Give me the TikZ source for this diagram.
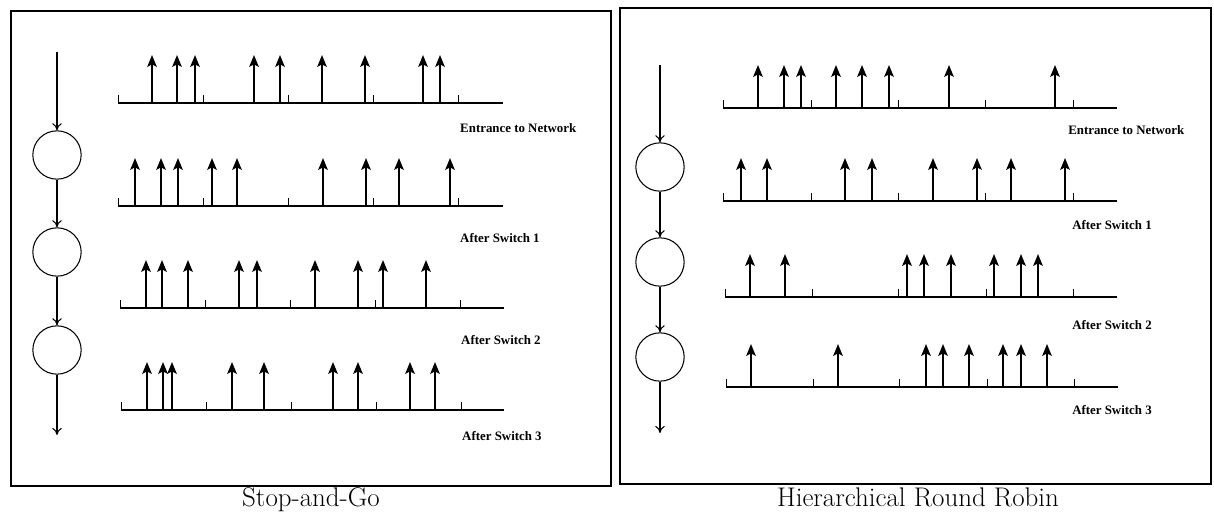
\documentclass[tikz,border=0pt]{standalone}
\usepackage{fontspec}
\newfontfamily\labelfont{Liberation Serif}
\usetikzlibrary{arrows.meta,positioning}

\tikzset{
  panel/.style={draw, line width=1.4pt},
  switch/.style={draw, circle, line width=0.9pt, minimum size=1.45cm, inner sep=0pt},
  flow/.style={-{To[length=6pt,width=8pt]}, line width=0.9pt},
  base/.style={line width=1.2pt},
  tick/.style={line width=0.8pt},
  pulse/.style={-{Stealth[length=10pt,width=8pt,inset=2pt]}, line width=1.9pt},
  rowlabel/.style={anchor=west, inner sep=0pt, font=\labelfont\bfseries\fontsize{11}{13}\selectfont},
  caption/.style={inner sep=0pt, font=\fontsize{23}{26}\selectfont}
}

\begin{document}
\begin{tikzpicture}[x=0.03cm, y=-0.03cm]
    \useasboundingbox (0,0) rectangle (1214,513);

    %% Panels
    \draw [panel] (11,11) rectangle (611,486);
    \draw [panel] (620,8) rectangle (1211,484);
    \node [caption, anchor=base] (capsg) at (311,506) {Stop-and-Go};
    \node [caption, anchor=base] (caphrr) at (918,506) {Hierarchical Round Robin};

    %% Stop-and-Go switches
    \coordinate (sgin) at (57,52);
    \node [switch] (sg1) at (57,155) {};
    \node [switch] (sg2) at (57,252) {};
    \node [switch] (sg3) at (57,350) {};
    \coordinate (sgout) at (57,435);
    \draw [flow] (sgin) -- (sg1);
    \draw [flow] (sg1) -- (sg2);
    \draw [flow] (sg2) -- (sg3);
    \draw [flow] (sg3) -- (sgout);

    %% Stop-and-Go timelines
    \draw [base] (118,103) -- (503,103);
    \foreach \x in {118,203,288,373,458} \draw [tick] (\x,103) -- ++(0,-8);
    \foreach \x in {152,177,195,254,280,322,365,423,440} \draw [pulse] (\x,103) -- ++(0,-48);
    \node [rowlabel] (sgl0) at (460,128) {Entrance to Network};

    \draw [base] (118,206) -- (503,206);
    \foreach \x in {118,203,288,373,458} \draw [tick] (\x,206) -- ++(0,-8);
    \foreach \x in {135,161,178,212,237,323,366,399,450} \draw [pulse] (\x,206) -- ++(0,-48);
    \node [rowlabel] (sgl1) at (460,238) {After Switch 1};

    \draw [base] (120,308) -- (504,308);
    \foreach \x in {120,205,290,375,460} \draw [tick] (\x,308) -- ++(0,-8);
    \foreach \x in {146,162,188,239,257,315,358,383,426} \draw [pulse] (\x,308) -- ++(0,-48);
    \node [rowlabel] (sgl2) at (461,340) {After Switch 2};

    \draw [base] (121,410) -- (504,410);
    \foreach \x in {121,206,291,376,461} \draw [tick] (\x,410) -- ++(0,-8);
    \foreach \x in {147,163,172,232,264,333,358,410,435} \draw [pulse] (\x,410) -- ++(0,-48);
    \node [rowlabel] (sgl3) at (462,436) {After Switch 3};

    %% Hierarchical Round Robin switches
    \coordinate (hrin) at (660,65);
    \node [switch] (hr1) at (660,167) {};
    \node [switch] (hr2) at (660,262) {};
    \node [switch] (hr3) at (660,357) {};
    \coordinate (hrout) at (660,433);
    \draw [flow] (hrin) -- (hr1);
    \draw [flow] (hr1) -- (hr2);
    \draw [flow] (hr2) -- (hr3);
    \draw [flow] (hr3) -- (hrout);

    %% Hierarchical Round Robin timelines
    \draw [base] (723,108) -- (1117,108);
    \foreach \x in {723,811,898,985,1073} \draw [tick] (\x,108) -- ++(0,-8);
    \foreach \x in {758,784,801,836,862,889,949,1055} \draw [pulse] (\x,108) -- ++(0,-43);
    \node [rowlabel] (hrl0) at (1068,130) {Entrance to Network};

    \draw [base] (723,201) -- (1117,201);
    \foreach \x in {723,811,898,985,1073} \draw [tick] (\x,201) -- ++(0,-8);
    \foreach \x in {741,767,845,872,933,977,1011,1065} \draw [pulse] (\x,201) -- ++(0,-43);
    \node [rowlabel] (hrl1) at (1072,225) {After Switch 1};

    \draw [base] (725,297) -- (1117,297);
    \foreach \x in {725,812,898,986,1073} \draw [tick] (\x,297) -- ++(0,-8);
    \foreach \x in {750,785,907,924,951,994,1021,1038} \draw [pulse] (\x,297) -- ++(0,-43);
    \node [rowlabel] (hrl2) at (1072,325) {After Switch 2};

    \draw [base] (726,387) -- (1118,387);
    \foreach \x in {726,813,899,987,1074} \draw [tick] (\x,387) -- ++(0,-8);
    \foreach \x in {751,838,926,943,969,1003,1021,1047} \draw [pulse] (\x,387) -- ++(0,-43);
    \node [rowlabel] (hrl3) at (1072,410) {After Switch 3};
\end{tikzpicture}
\end{document}
